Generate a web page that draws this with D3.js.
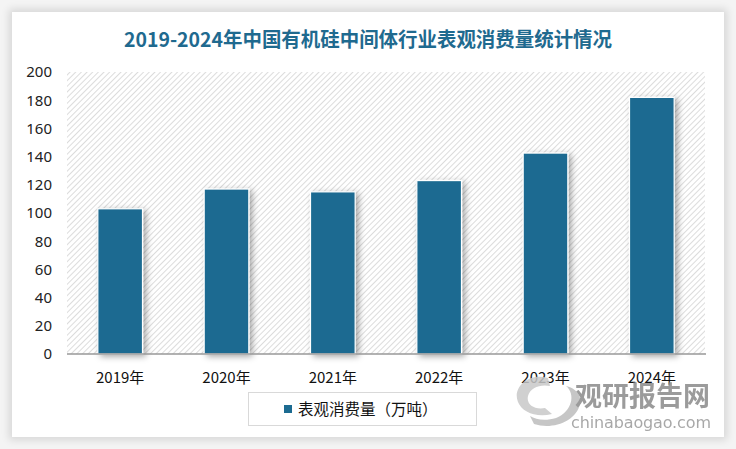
<!DOCTYPE html>
<html><head><meta charset="utf-8">
<script src="https://cdn.jsdelivr.net/npm/d3@7/dist/d3.min.js"></script>
<style>
html,body{margin:0;padding:0;background:#fff;}
#wrap{position:relative;width:736px;height:449px;overflow:hidden;background:#f4f4f4;}
#card{position:absolute;left:12px;top:12px;width:712px;height:425px;background:#fff;box-shadow:0 0 8px 3px rgba(0,0,0,0.12);}
svg{position:absolute;left:0;top:0;}
</style></head>
<body><div id="wrap"><div id="card"></div></div>
<script>
const categories = ["2019年","2020年","2021年","2022年","2023年","2024年"];
const values = [103, 117, 115, 123, 142.5, 182];
const yTicks = [0,20,40,60,80,100,120,140,160,180,200];
const title = "2019-2024年中国有机硅中间体行业表观消费量统计情况";
const legendLabel = "表观消费量（万吨）";

const W = 736, H = 449;
const svg = d3.select("#wrap").append("svg").attr("width", W).attr("height", H);
const defs = svg.append("defs");
const pat = defs.append("pattern").attr("id","hatch").attr("patternUnits","userSpaceOnUse")
  .attr("width",4).attr("height",4).attr("patternTransform","rotate(45)");
pat.append("rect").attr("width",4).attr("height",4).attr("fill","#fff");
pat.append("line").attr("x1",0).attr("y1",0).attr("x2",0).attr("y2",4)
  .attr("stroke","#d3d3d3").attr("stroke-width",1.6);
const f = defs.append("filter").attr("id","sh").attr("x","-30%").attr("y","-10%").attr("width","170%").attr("height","130%");
f.append("feDropShadow").attr("dx",3).attr("dy",2).attr("stdDeviation",3).attr("flood-color","#000").attr("flood-opacity",0.35);

const m = {left:67, right:705, top:72, bottom:354};
const x = d3.scaleBand().domain(categories).range([m.left, m.right]).paddingInner(0.58).paddingOuter(0.29);
const y = d3.scaleLinear().domain([0,200]).range([m.bottom, m.top]);

svg.append("rect").attr("x",m.left).attr("y",m.top).attr("width",m.right-m.left).attr("height",m.bottom-m.top)
  .attr("fill","url(#hatch)");

svg.append("text").attr("x",368).attr("y",47).attr("text-anchor","middle")
  .attr("font-family","'Noto Sans CJK SC', sans-serif").attr("font-weight","bold").attr("font-size",20)
  .attr("textLength",488).attr("lengthAdjust","spacingAndGlyphs")
  .attr("fill","#1f6a8f").text(title);

// y axis
const ya = svg.append("g").attr("transform",`translate(${m.left},0)`)
  .call(d3.axisLeft(y).tickValues(yTicks).tickSize(0).tickPadding(15));
ya.select(".domain").remove();
ya.selectAll("text").attr("font-family","'Noto Sans', 'DejaVu Sans', sans-serif").attr("font-size",15).attr("fill","#222");

// bars
svg.append("g").selectAll("rect").data(values).join("rect")
  .attr("x",(d,i)=>x(categories[i])).attr("width",x.bandwidth())
  .attr("y",d=>y(d)).attr("height",d=>y(0)-y(d))
  .attr("fill","#1c6b91").attr("stroke","#fff").attr("stroke-width",1.2)
  .attr("filter","url(#sh)");

// x axis
const xa = svg.append("g").attr("transform",`translate(0,${m.bottom})`)
  .call(d3.axisBottom(x).tickSize(0).tickPadding(18));
xa.select(".domain").attr("stroke","#999").attr("stroke-width",1.5).attr("d",`M${m.left},0H${m.right+1}`);
xa.selectAll("text").attr("font-family","'Noto Sans CJK SC', sans-serif").attr("font-size",15).attr("fill","#111");

// legend
const lg = svg.append("g");
lg.append("rect").attr("x",248.5).attr("y",392.5).attr("width",228).attr("height",33)
  .attr("fill","#fff").attr("stroke","#d9d9d9");
lg.append("rect").attr("x",284).attr("y",405).attr("width",8).attr("height",8).attr("fill","#1c6b91");
lg.append("text").attr("x",298).attr("y",414.5).attr("font-family","'Noto Sans CJK SC', sans-serif")
  .attr("font-size",15.5).attr("fill","#111").text(legendLabel);

// watermark
const wm = svg.append("g").attr("opacity",0.85);
wm.append("path").attr("d","M548,378 C528,372 512,388 518,402 C522,412 536,418 552,414 L545,408 C534,410 526,404 528,396 C530,388 540,384 550,386 Z")
  .attr("fill","#c8c8c8");
wm.append("path").attr("d","M566,386 C576,394 572,412 556,418 C546,421 536,420 530,416 L534,424 C552,430 576,422 580,404 C582,396 576,388 566,386 Z")
  .attr("fill","#bdbdbd");
wm.append("text").attr("x",575).attr("y",406).attr("font-family","'Noto Sans CJK SC', sans-serif")
  .attr("font-weight","bold").attr("font-size",27).attr("fill","#8a8a8a").attr("textLength",135).text("观研报告网");
wm.append("text").attr("x",571).attr("y",428).attr("font-family","'DejaVu Sans', sans-serif")
  .attr("font-size",16).attr("fill","#999").attr("textLength",140).text("chinabaogao.com");
</script></body></html>
